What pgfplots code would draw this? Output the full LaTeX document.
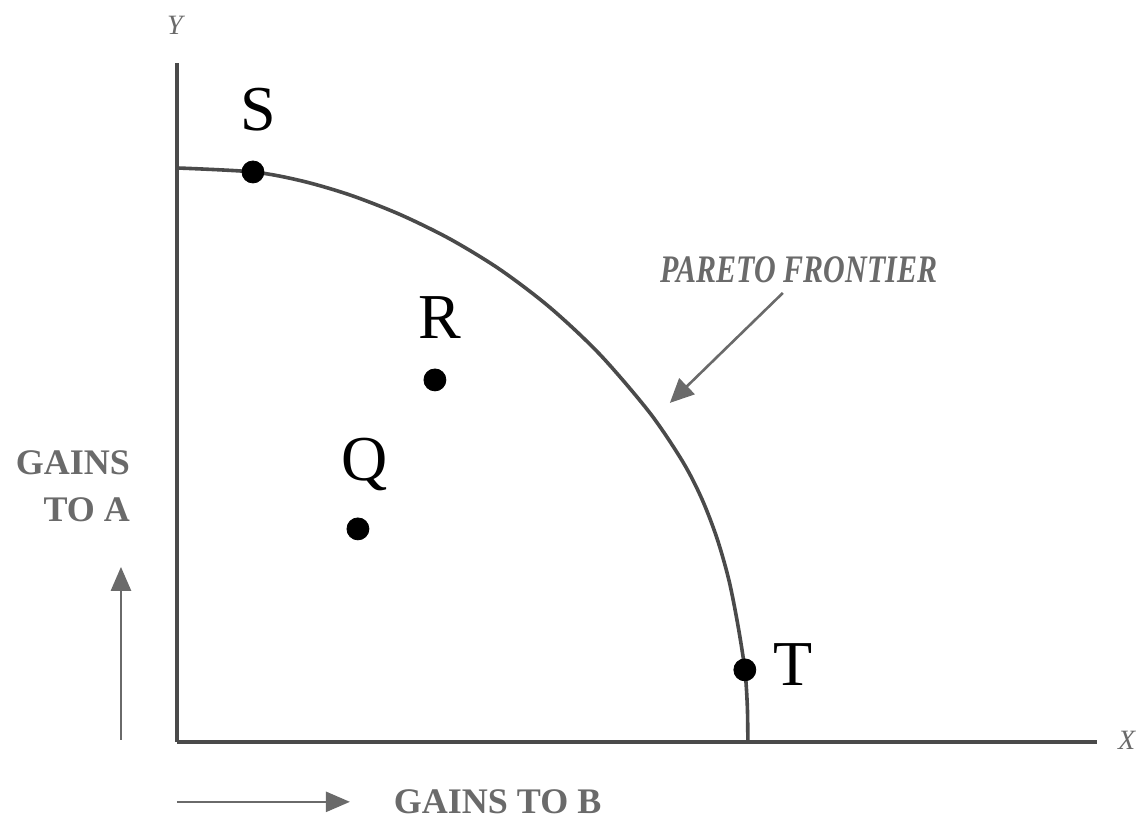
\documentclass[border=0pt]{standalone}
\usepackage{fontspec}
\setmainfont{Liberation Serif}
\usepackage{graphicx}
\usepackage{pgfplots}
\pgfplotsset{compat=1.18}
\usetikzlibrary{arrows.meta}
\definecolor{axisgray}{HTML}{4A4A4A}
\definecolor{txtgray}{HTML}{6A6A6A}
\begin{document}
\begin{tikzpicture}
\begin{axis}[
  scale only axis,
  width=460pt, height=339.5pt,
  xmin=0, xmax=920, ymin=0, ymax=679,
  axis lines=left,
  axis line style={-, line width=2pt, color=axisgray},
  xtick=\empty, ytick=\empty,
  clip=false,
]
% frontier
\addplot[line width=1.8pt, color=axisgray, smooth] coordinates {
 (0,574) (76,570) (125,561) (173,547) (223,527.5) (273,503) (323,472.5) (373,434.5)
 (423,387.5) (473,329) (506,280) (525,243) (540,204) (552,162) (561,117)
 (568,72) (570.5,35) (571,0)
};
% points
\addplot[only marks, mark=*, mark size=5.5pt, color=black] coordinates {
 (76,570) (258,362) (181,213) (568,72)
};
% bounding box
\path (axis cs:-177,-78) rectangle (axis cs:965,742);
% point labels
\node[font=\fontsize{32}{36}\selectfont] at (axis cs:81,632) {S};
\node[font=\fontsize{32}{36}\selectfont] at (axis cs:263,424) {R};
\node[font=\fontsize{32}{36}\selectfont] at (axis cs:188,277) {Q};
\node[font=\fontsize{32}{36}\selectfont] at (axis cs:616,77) {T};
% axis names
\node[font=\fontsize{14}{16}\itshape, text=txtgray] at (axis cs:-2,717) {Y};
\node[font=\fontsize{14}{16}\itshape, text=txtgray] at (axis cs:950,2) {X};
% pareto label and arrow
\node[font=\fontsize{15}{18}\bfseries\itshape, text=txtgray] at (axis cs:622,472) {\scalebox{1}[1.3]{PARETO FRONTIER}};
\draw[-{Triangle[length=12pt,width=11pt]}, line width=1.3pt, color=txtgray] (axis cs:606,449) -- (axis cs:493,339);
% gains labels
\node[font=\fontsize{18}{23.5}\bfseries\selectfont, text=txtgray, align=right, anchor=east] at (axis cs:-40,256) {GAINS\\TO A};
\draw[-{Triangle[length=12pt,width=10pt]}, line width=1.3pt, color=txtgray] (axis cs:-56,2) -- (axis cs:-56,175);
\draw[-{Triangle[length=12pt,width=10pt]}, line width=1.3pt, color=txtgray] (axis cs:0,-60) -- (axis cs:173,-60);
\node[font=\fontsize{18}{22}\bfseries\selectfont, text=txtgray, anchor=west] at (axis cs:210,-60) {GAINS TO B};
\end{axis}
\end{tikzpicture}
\end{document}
